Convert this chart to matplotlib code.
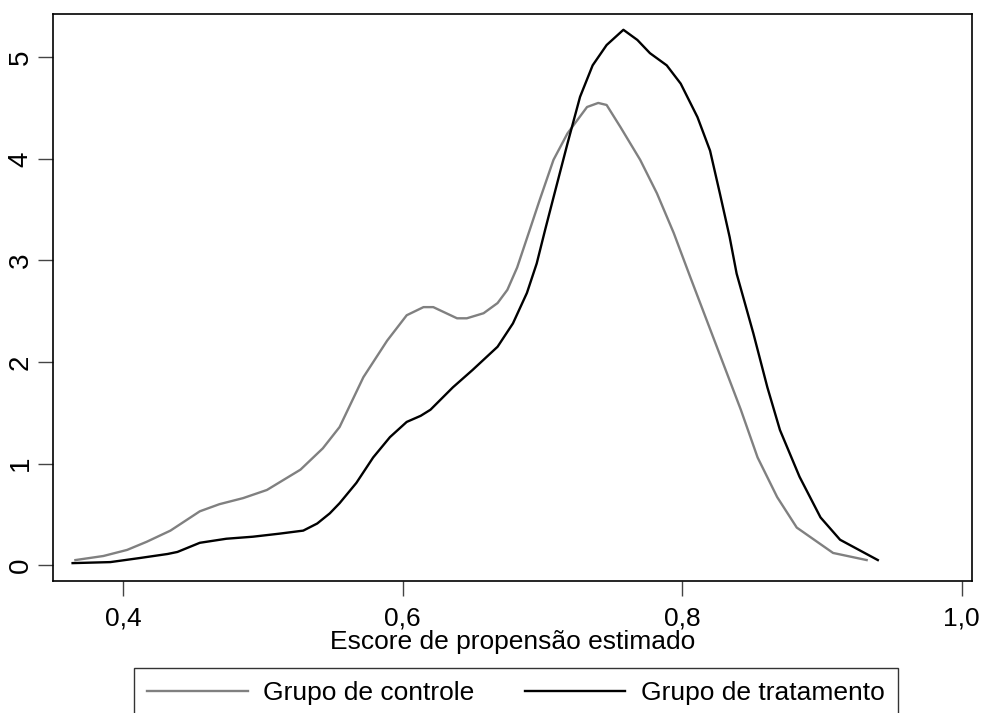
import numpy as np
import matplotlib
matplotlib.use("Agg")
import matplotlib.pyplot as plt

plt.rcParams['font.family'] = ['Liberation Sans', 'DejaVu Sans']

# densidade estimada - grupo de controle
ctrl_x = [0.366, 0.386, 0.403, 0.417, 0.434, 0.455, 0.469, 0.486, 0.503,
          0.527, 0.543, 0.555, 0.572, 0.589, 0.603, 0.615, 0.622, 0.639,
          0.646, 0.658, 0.668, 0.675, 0.682, 0.691, 0.698, 0.708, 0.718,
          0.732, 0.740, 0.746, 0.756, 0.770, 0.782, 0.794, 0.806, 0.824,
          0.842, 0.854, 0.868, 0.882, 0.908, 0.932]
ctrl_y = [0.05, 0.09, 0.15, 0.23, 0.34, 0.53, 0.60, 0.66, 0.74,
          0.94, 1.15, 1.36, 1.85, 2.21, 2.46, 2.54, 2.54, 2.43,
          2.43, 2.48, 2.58, 2.71, 2.93, 3.30, 3.59, 3.99, 4.25,
          4.51, 4.55, 4.53, 4.31, 3.99, 3.66, 3.27, 2.83, 2.18,
          1.53, 1.06, 0.67, 0.37, 0.12, 0.05]

# densidade estimada - grupo de tratamento
trat_x = [0.364, 0.391, 0.412, 0.432, 0.439, 0.455, 0.474, 0.493, 0.512,
          0.529, 0.539, 0.548, 0.555, 0.567, 0.579, 0.591, 0.603, 0.613,
          0.620, 0.636, 0.650, 0.668, 0.679, 0.689, 0.696, 0.702, 0.708,
          0.718, 0.727, 0.736, 0.746, 0.758, 0.768, 0.777, 0.789, 0.799,
          0.811, 0.820, 0.827, 0.834, 0.839, 0.851, 0.861, 0.870, 0.884,
          0.899, 0.913, 0.940]
trat_y = [0.02, 0.03, 0.07, 0.11, 0.13, 0.22, 0.26, 0.28, 0.31,
          0.34, 0.41, 0.51, 0.61, 0.81, 1.06, 1.26, 1.41, 1.47,
          1.53, 1.75, 1.92, 2.15, 2.38, 2.68, 2.97, 3.30, 3.62,
          4.15, 4.61, 4.92, 5.12, 5.27, 5.17, 5.04, 4.92, 4.74,
          4.41, 4.08, 3.66, 3.23, 2.87, 2.28, 1.75, 1.33, 0.87,
          0.47, 0.25, 0.05]

xticks = [0.4, 0.6, 0.8, 1.0]
xtick_labels = ['0,4', '0,6', '0,8', '1,0']
yticks = [0, 1, 2, 3, 4, 5]

fig = plt.figure(figsize=(9.82, 7.13), dpi=100)
ax = fig.add_axes([0.054, 0.185, 0.936, 0.796])

ax.plot(ctrl_x, ctrl_y, color='#808080', lw=1.7, label='Grupo de controle')
ax.plot(trat_x, trat_y, color='black', lw=1.7, label='Grupo de tratamento')

ax.set_xlim(0.35, 1.0075)
ax.set_ylim(-0.157, 5.43)
ax.set_xticks(xticks)
ax.set_xticklabels(xtick_labels)
ax.set_yticks(yticks)
ax.tick_params(axis='both', direction='out', length=11, width=1,
               color='#444444')
ax.tick_params(axis='x', labelsize=19, pad=7)
ax.tick_params(axis='y', labelsize=20, pad=3)
for lab in ax.get_yticklabels():
    lab.set_rotation(90)
    lab.set_va('center')
for s in ax.spines.values():
    s.set_linewidth(1.2)
    s.set_color('black')

ax.set_xlabel('Escore de propensão estimado', fontsize=19, labelpad=0)

leg = fig.legend(loc='upper center', bbox_to_anchor=(0.5255, 0.0631),
                 ncol=2, fontsize=19, frameon=True, fancybox=False,
                 edgecolor='black', handlelength=3.8, handletextpad=0.6,
                 columnspacing=1.9, borderpad=0.5, borderaxespad=0)
leg.get_frame().set_linewidth(1.0)

fig.savefig('out.png', dpi=100)
